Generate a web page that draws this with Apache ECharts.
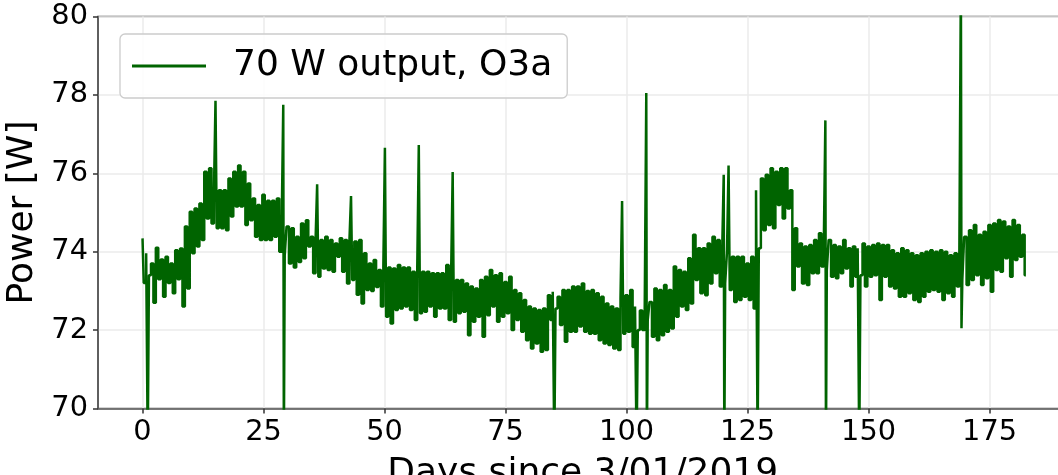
<!DOCTYPE html>
<html>
<head>
<meta charset="utf-8">
<script src="https://cdn.jsdelivr.net/npm/echarts@6/dist/echarts.min.js"></script>
<style>
html,body{margin:0;padding:0;background:#fff;}
#chart{width:1058px;height:475px;}
</style>
</head>
<body>
<div id="chart"></div>
<script>
// Daily high values of the 70 W output (day 0 .. 182)
const dailyHigh = [
74.34,73.96,73.70,74.10,73.80,73.87,73.70,74.04,74.08,74.64,
75.02,75.10,75.23,76.04,76.13,75.50,75.57,75.57,75.87,76.04,
76.20,76.04,75.74,75.36,75.19,75.45,75.30,75.30,75.36,74.72,
74.64,74.60,74.38,74.72,74.80,74.38,74.30,74.30,74.38,74.30,
74.21,74.34,74.30,74.30,74.26,74.30,73.96,73.70,73.79,73.53,
73.60,73.60,73.57,73.66,73.60,73.60,73.49,73.50,73.49,73.49,
73.45,73.45,73.45,73.66,73.40,73.28,73.28,73.19,73.11,73.06,
73.28,73.36,73.53,73.40,73.45,73.23,73.36,73.02,72.94,72.77,
72.60,72.55,72.51,72.55,72.89,72.98,72.85,73.02,73.02,73.11,
73.11,73.19,73.00,73.02,72.94,72.85,72.68,72.60,72.55,72.80,
72.89,73.02,72.60,72.50,72.50,72.72,73.06,73.02,73.15,73.02,
73.62,73.53,73.49,73.83,74.43,74.09,74.09,74.21,74.38,74.30,
74.00,74.00,73.87,73.87,73.87,73.70,73.87,75.57,75.87,75.96,
76.13,76.04,76.13,76.13,75.57,74.60,74.21,74.13,74.17,74.30,
74.47,74.17,74.30,74.17,74.13,74.30,74.09,74.13,74.09,74.21,
74.13,74.17,74.21,74.17,74.17,74.04,73.96,74.09,74.04,73.96,
73.91,73.96,74.00,74.04,74.00,74.04,74.00,73.91,73.96,73.90,
74.38,74.55,74.68,74.43,74.51,74.68,74.72,74.81,74.77,74.64,
74.81,74.68,74.43
];
// Daily low values (day 0 .. 182)
const dailyLow = [
73.20,73.40,72.70,73.30,72.85,73.20,72.94,73.30,72.60,73.06,
73.96,74.13,74.30,74.85,74.72,74.60,74.60,74.55,74.90,75.15,
75.15,74.68,74.80,74.38,74.30,74.30,74.30,74.38,74.00,73.90,
73.70,73.60,73.74,73.83,74.13,73.45,73.36,73.57,73.53,73.49,
73.87,73.49,73.19,73.28,72.90,72.68,73.02,73.00,73.10,72.60,
72.34,72.17,72.51,72.55,72.60,72.51,72.26,72.43,72.47,72.60,
72.34,72.55,72.55,72.26,72.21,72.43,72.47,71.87,72.21,72.34,
71.83,72.38,72.60,72.21,72.34,72.43,72.00,72.26,71.96,71.74,
71.53,71.66,71.45,71.49,72.26,72.55,72.13,71.70,71.96,71.96,
72.09,71.96,71.91,71.91,71.74,71.66,71.62,71.53,71.49,71.91,
71.96,71.57,72.00,72.00,72.26,71.83,71.74,71.87,71.96,72.04,
72.34,72.60,72.51,72.68,73.28,72.94,72.89,73.19,73.45,73.11,
73.20,73.02,72.72,72.77,72.85,72.77,72.55,74.09,74.55,74.68,
74.60,75.19,74.85,75.10,73.02,73.62,73.19,73.15,73.45,73.45,
73.62,73.53,73.36,73.32,73.45,73.57,73.11,73.36,73.40,73.11,
73.36,73.40,72.77,73.36,73.11,73.06,72.85,72.85,72.94,72.77,
72.72,72.85,72.98,73.02,72.98,72.77,72.94,72.85,73.11,73.30,
73.15,73.28,73.40,73.15,73.32,72.98,73.53,73.49,73.83,73.36,
73.79,73.87,73.40
];
// Isolated spikes (day, value)
const spikeDays = [1, 15, 29, 29, 36, 43, 50, 57, 64, 85, 99, 102, 104, 104, 120, 120, 121, 127, 141, 141, 148, 169, 169];
const spikeValues = [69, 77.85, 77.75, 69, 75.72, 75.42, 76.65, 76.72, 76.03, 69, 75.29, 69, 78.05, 69, 75.96, 69, 76.2, 69, 77.35, 69, 69, 81, 72.05];

const xTicks = [0, 25, 50, 75, 100, 125, 150, 175];
const yTicks = [70, 72, 74, 76, 78, 80];
const seriesName = '70 W output, O3a';

// each day: peak reading, then (optional spikes), then the daily low
const points = [];
for (let d = 0; d < dailyHigh.length; d++) {
  points.push([d, dailyHigh[d]]);
  let k = 0;
  for (let i = 0; i < spikeDays.length; i++) {
    if (spikeDays[i] === d) {
      points.push([d + 0.15 + 0.1 * k, spikeValues[i]]);
      k++;
    }
  }
  points.push([d + 0.5, dailyLow[d]]);
}

const FONT = 'DejaVu Sans';
const chart = echarts.init(document.getElementById('chart'), null, {renderer: 'canvas'});
chart.setOption({
  animation: false,
  backgroundColor: '#ffffff',
  grid: {
    left: 98, top: 16.5, width: 969.5, height: 392,
    containLabel: false, outerBoundsMode: 'none',
    show: true, borderColor: '#555555', borderWidth: 1.5, backgroundColor: 'transparent'
  },
  legend: {
    data: [seriesName],
    left: 120, top: 34,
    padding: [12, 15, 12, 12],
    icon: 'rect', itemWidth: 74, itemHeight: 3,
    backgroundColor: 'rgba(255,255,255,0.85)',
    borderColor: '#cccccc', borderWidth: 1.3, borderRadius: 5,
    textStyle: {fontFamily: FONT, fontSize: 36, color: '#000', lineHeight: 40, padding: [0, 0, 0, 22]}
  },
  xAxis: {
    type: 'value', min: -9.2, max: 191.1,
    name: 'Days since 3/01/2019', nameLocation: 'middle', nameGap: 47,
    nameTextStyle: {fontFamily: FONT, fontSize: 36, color: '#000'},
    axisLine: {show: true, onZero: false, lineStyle: {color: '#555555', width: 1.5}},
    axisTick: {show: true, length: 5, customValues: xTicks, lineStyle: {color: '#333', width: 1.5}},
    axisLabel: {customValues: xTicks, margin: 10, fontFamily: FONT, fontSize: 28.8, color: '#000'},
    splitLine: {show: true, lineStyle: {color: '#ebebeb', width: 1.5}}
  },
  yAxis: {
    type: 'value', min: 70, max: 80, interval: 2,
    name: 'Power [W]', nameLocation: 'middle', nameGap: 55,
    nameTextStyle: {fontFamily: FONT, fontSize: 36, color: '#000'},
    axisLine: {show: true, onZero: false, lineStyle: {color: '#555555', width: 1.5}},
    axisTick: {show: true, length: 5, lineStyle: {color: '#333', width: 1.5}},
    axisLabel: {margin: 10, fontFamily: FONT, fontSize: 28.8, color: '#000',
      formatter: function (v) { return yTicks.indexOf(v) >= 0 ? String(v) : ''; }},
    splitLine: {show: true, lineStyle: {color: '#ebebeb', width: 1.5}}
  },
  series: [{
    name: seriesName, type: 'line', data: points,
    showSymbol: false, symbol: 'none', clip: true,
    step: 'middle',
    color: '#006400',
    lineStyle: {color: '#006400', width: 2.5},
    sampling: null
  }]
});
</script>
</body>
</html>
